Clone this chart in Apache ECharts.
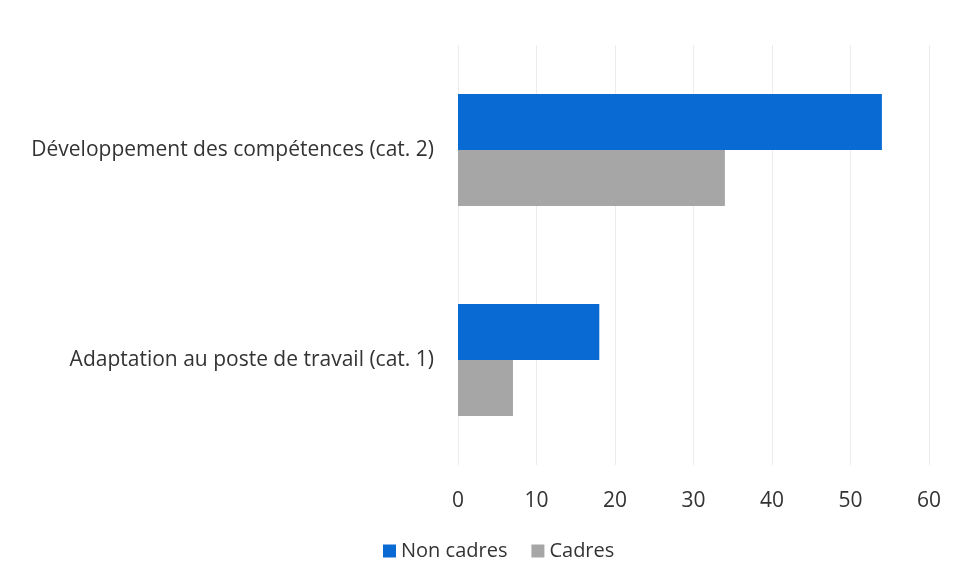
<!DOCTYPE html>
<html>
<head>
<meta charset="utf-8">
<script src="https://cdn.jsdelivr.net/npm/echarts@6/dist/echarts.min.js"></script>
<style>
  html, body { margin: 0; padding: 0; background: #ffffff; }
  #chart { width: 963px; height: 584px; }
</style>
</head>
<body>
<div id="chart"></div>
<script>
// Training categories (bottom to top on the axis)
const categories = ['Adaptation au poste de travail (cat. 1)', 'Développement des compétences (cat. 2)'];
// Number of trainees per category
const nonCadres = [18, 54];
const cadres = [7, 34];
const xTicks = { min: 0, max: 60, interval: 10 };

const FONT = '"Open Sans", Lato, sans-serif';
const TEXT = '#333333';

const chart = echarts.init(document.getElementById('chart'));
chart.setOption({
  backgroundColor: '#ffffff',
  animation: false,
  textStyle: { fontFamily: FONT },
  legend: {
    data: ['Non cadres', 'Cadres'],
    bottom: 18,
    left: 378,
    itemWidth: 13,
    itemHeight: 13,
    itemGap: 24,
    icon: 'rect',
    textStyle: { fontSize: 20, color: TEXT, fontFamily: FONT }
  },
  grid: { left: 458, right: 34, top: 45, bottom: 119 },
  xAxis: {
    type: 'value',
    min: xTicks.min,
    max: xTicks.max,
    interval: xTicks.interval,
    axisLine: { show: false },
    axisTick: { show: false },
    axisLabel: { fontSize: 21, color: TEXT, margin: 26, fontFamily: FONT },
    splitLine: { show: true, lineStyle: { color: '#ececec', width: 1 } }
  },
  yAxis: {
    type: 'category',
    data: categories,
    axisLine: { show: false },
    axisTick: { show: false },
    axisLabel: { fontSize: 21, color: TEXT, margin: 24, fontFamily: FONT, padding: [14, 0, 0, 0] }
  },
  series: [
    {
      name: 'Non cadres',
      type: 'bar',
      data: nonCadres,
      barWidth: 56,
      barGap: '0%',
      itemStyle: { color: '#0a6ad4' }
    },
    {
      name: 'Cadres',
      type: 'bar',
      data: cadres,
      barWidth: 56,
      barGap: '0%',
      itemStyle: { color: '#a6a6a6' }
    }
  ]
});
</script>
</body>
</html>
